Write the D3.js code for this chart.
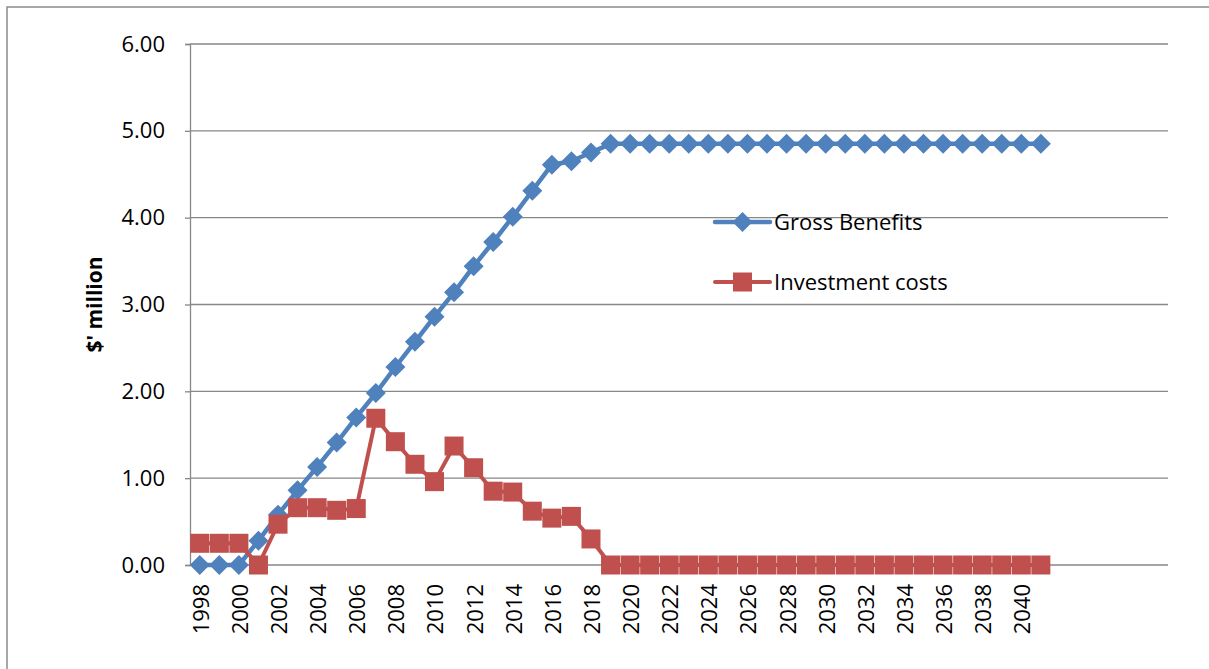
<!DOCTYPE html>
<html>
<head>
<meta charset="utf-8">
<script src="https://cdn.jsdelivr.net/npm/d3@7"></script>
<style>
  html, body { margin: 0; padding: 0; background: #fff; }
  svg { display: block; }
  text { font-family: "Open Sans", "Liberation Sans", sans-serif; fill: #000; }
</style>
</head>
<body>
<svg id="chart" width="1209" height="669"></svg>
<script>
// Years on the category axis; the trailing blanks are empty slots at the right of the plot
const categories = [
  "1998","1999","2000","2001","2002","2003","2004","2005","2006","2007",
  "2008","2009","2010","2011","2012","2013","2014","2015","2016","2017",
  "2018","2019","2020","2021","2022","2023","2024","2025","2026","2027",
  "2028","2029","2030","2031","2032","2033","2034","2035","2036","2037",
  "2038","2039","2040","2041","","","","","",""
];

// Labels shown under the axis (every second year)
const tickLabels = [
  "1998","2000","2002","2004","2006","2008","2010","2012","2014","2016",
  "2018","2020","2022","2024","2026","2028","2030","2032","2034","2036",
  "2038","2040"
];

// $ million, 1998–2041
const grossBenefits = [
  0.00, 0.00, 0.00, 0.28, 0.58, 0.86, 1.13, 1.41, 1.70, 1.98,
  2.28, 2.57, 2.86, 3.14, 3.44, 3.72, 4.01, 4.31, 4.61, 4.65,
  4.75, 4.85, 4.85, 4.85, 4.85, 4.85, 4.85, 4.85, 4.85, 4.85,
  4.85, 4.85, 4.85, 4.85, 4.85, 4.85, 4.85, 4.85, 4.85, 4.85,
  4.85, 4.85, 4.85, 4.85
];

const investmentCosts = [
  0.25, 0.25, 0.25, 0.00, 0.47, 0.66, 0.66, 0.63, 0.65, 1.69,
  1.42, 1.16, 0.96, 1.37, 1.12, 0.85, 0.84, 0.62, 0.54, 0.56,
  0.30, 0.00, 0.00, 0.00, 0.00, 0.00, 0.00, 0.00, 0.00, 0.00,
  0.00, 0.00, 0.00, 0.00, 0.00, 0.00, 0.00, 0.00, 0.00, 0.00,
  0.00, 0.00, 0.00, 0.00
];

const yTicks = [0, 1, 2, 3, 4, 5, 6];

const series = [
  { name: "Gross Benefits", values: grossBenefits, color: "#4F81BD", marker: "diamond", width: 4.5 },
  { name: "Investment costs", values: investmentCosts, color: "#C0504D", marker: "square", width: 4 }
];

const svg = d3.select("#chart");
const plot = { left: 190, right: 1168, top: 44, bottom: 565 };
const gridColor = "#878787";
const labelSize = "22px";

// outer chart frame
svg.append("rect")
  .attr("x", 7).attr("y", 7)
  .attr("width", 1220).attr("height", 680)
  .attr("fill", "none")
  .attr("stroke", "#8a8a8a")
  .attr("stroke-width", 1.5);

const x = d3.scaleBand()
  .domain(d3.range(categories.length))
  .range([plot.left, plot.right])
  .padding(0);

const cx = i => x(i) + x.bandwidth() / 2;

const y = d3.scaleLinear()
  .domain([0, 6])
  .range([plot.bottom, plot.top]);

// horizontal gridlines
svg.append("g")
  .selectAll("line")
  .data(yTicks)
  .join("line")
  .attr("x1", plot.left).attr("x2", plot.right)
  .attr("y1", d => y(d)).attr("y2", d => y(d))
  .attr("stroke", gridColor)
  .attr("stroke-width", 1.3);

// value axis
const yAxis = d3.axisLeft(y)
  .tickValues(yTicks)
  .tickFormat(d3.format(".2f"))
  .tickSize(5)
  .tickPadding(20);

const yg = svg.append("g")
  .attr("transform", `translate(${plot.left},0)`)
  .call(yAxis);
yg.select(".domain").attr("stroke", gridColor).attr("stroke-width", 1.3);
yg.selectAll(".tick line").attr("stroke", gridColor).attr("stroke-width", 1.3);
yg.selectAll(".tick text")
  .style("font-family", "'Open Sans', sans-serif")
  .style("font-size", labelSize)
  .attr("fill", "#000");

// category axis labels
const labelIndex = new Map(categories.map((c, i) => [c, i]));
svg.append("g")
  .selectAll("text")
  .data(tickLabels)
  .join("text")
  .attr("transform", d => `translate(${cx(labelIndex.get(d)) + 1},${plot.bottom + 19}) rotate(-90)`)
  .attr("text-anchor", "end")
  .attr("dy", "0.36em")
  .style("font-size", labelSize)
  .text(d => d);

// axis title
svg.append("text")
  .attr("transform", `translate(95,${(plot.top + plot.bottom) / 2}) rotate(-90)`)
  .attr("text-anchor", "middle")
  .attr("dy", "0.35em")
  .style("font-size", "21px")
  .style("font-weight", "bold")
  .text("$' million");

function drawMarker(g, type, color) {
  if (type === "diamond") {
    g.append("path")
      .attr("d", "M0,-10 L10,0 L0,10 L-10,0 Z")
      .attr("fill", color);
  } else {
    g.append("rect")
      .attr("x", -9.5).attr("y", -9.5)
      .attr("width", 19).attr("height", 19)
      .attr("fill", color);
  }
}

const line = d3.line()
  .x((d, i) => cx(i))
  .y(d => y(d));

series.forEach(s => {
  const g = svg.append("g");
  g.append("path")
    .datum(s.values)
    .attr("d", line)
    .attr("fill", "none")
    .attr("stroke", s.color)
    .attr("stroke-width", s.width)
    .attr("stroke-linejoin", "round");
  g.selectAll("g.pt")
    .data(s.values)
    .join("g")
    .attr("class", "pt")
    .attr("transform", (d, i) => `translate(${cx(i)},${y(d)})`)
    .each(function () { drawMarker(d3.select(this), s.marker, s.color); });
});

// legend
const legend = svg.append("g").attr("transform", "translate(715,222)");
series.forEach((s, i) => {
  const row = legend.append("g").attr("transform", `translate(0,${i * 60})`);
  row.append("line")
    .attr("x1", 0).attr("x2", 55)
    .attr("stroke", s.color)
    .attr("stroke-width", s.width)
    .attr("stroke-linecap", "round");
  const m = row.append("g").attr("transform", "translate(27.5,0)");
  drawMarker(m, s.marker, s.color);
  row.append("text")
    .attr("x", 59)
    .attr("dy", "0.36em")
    .style("font-size", labelSize)
    .text(s.name);
});
</script>
</body>
</html>
